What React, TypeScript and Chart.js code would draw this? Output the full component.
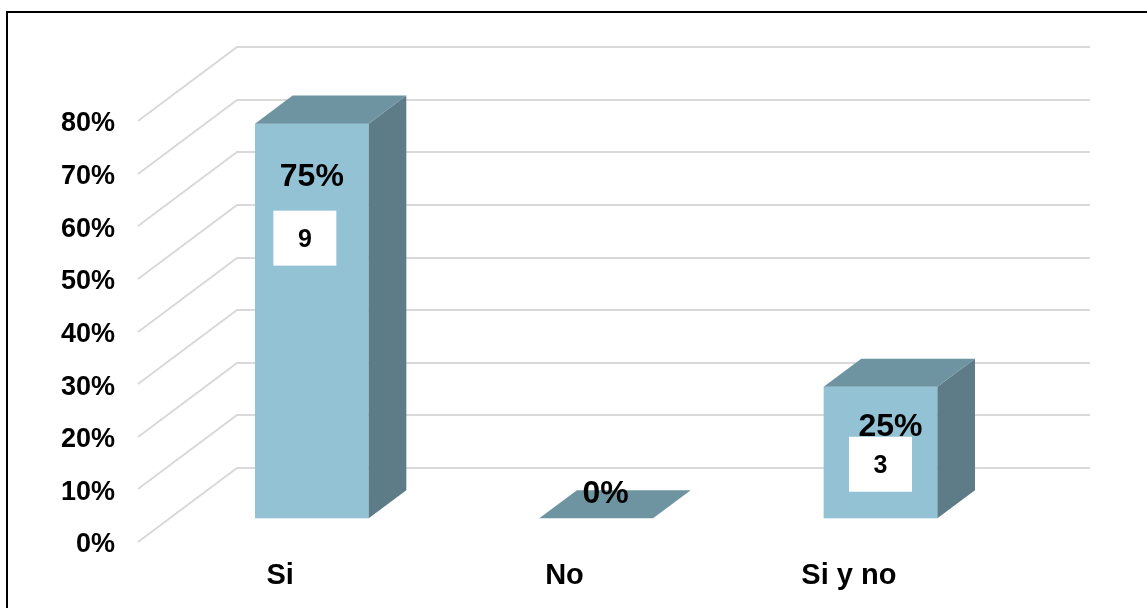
import React, { useEffect, useRef } from 'react';
import { Chart, registerables } from 'chart.js';

Chart.register(...registerables);

// ---- data ----
const categories = ['Si', 'No', 'Si y no'];
const percentValues = [0.75, 0, 0.25];
const counts = [9, 0, 3];
const yMax = 0.8;
const yStep = 0.1;

// ---- style / layout constants ----
const FONT = '"Liberation Sans", Arial, Helvetica, sans-serif';
const FRONT = '#92c2d4';
const TOP = '#6e94a2';
const SIDE = '#5d7c87';
const GRID = '#d9d9d9';
const DX = 99; // floor depth in x
const DY = 74; // floor depth in y
const F0 = 0.32; // bar front depth fraction
const F1 = 0.7; // bar back depth fraction
// label placement relative to bar front-face centre (x) and top (y)
const pctOffsets = [
  [0, 52],
  [9.5, -26.5],
  [10, 38],
];
const boxOffsets = [
  [-7, 114.5],
  [0, 0],
  [0, 77.5],
];

const threeDPlugin = {
  id: 'threeD',
  beforeDraw(chart: any) {
    const { ctx, width, height } = chart;
    ctx.save();
    ctx.fillStyle = '#ffffff';
    ctx.fillRect(0, 0, width, height);
    ctx.restore();
  },
  beforeDatasetsDraw(chart: any) {
    const { ctx, chartArea, scales } = chart;
    const y = scales.y;
    ctx.save();
    ctx.strokeStyle = GRID;
    ctx.lineWidth = 2;
    y.ticks.forEach((t: any) => {
      const py = Math.round(y.getPixelForValue(t.value));
      ctx.beginPath();
      ctx.moveTo(chartArea.left, py);
      ctx.lineTo(chartArea.left + DX, py - DY);
      ctx.lineTo(chartArea.right + DX, py - DY);
      ctx.stroke();
    });
    ctx.restore();
  },
  afterDatasetsDraw(chart: any) {
    const { ctx } = chart;
    const meta = chart.getDatasetMeta(0);
    const ox = DX * F0;
    const oy = DY * F0;
    const dx = DX * (F1 - F0);
    const dy = DY * (F1 - F0);
    ctx.save();
    meta.data.forEach((el: any, i: number) => {
      const { x, y, base, width } = el.getProps(['x', 'y', 'base', 'width'], true);
      const xl = x - width / 2 + ox;
      const xr = x + width / 2 + ox;
      const yt = y - oy;
      const yb = base - oy;
      // front
      if (yb - yt > 0.5) {
        ctx.fillStyle = FRONT;
        ctx.fillRect(xl, yt, xr - xl, yb - yt);
        // side
        ctx.fillStyle = SIDE;
        ctx.beginPath();
        ctx.moveTo(xr, yt);
        ctx.lineTo(xr + dx, yt - dy);
        ctx.lineTo(xr + dx, yb - dy);
        ctx.lineTo(xr, yb);
        ctx.closePath();
        ctx.fill();
      }
      // top
      ctx.fillStyle = TOP;
      ctx.beginPath();
      ctx.moveTo(xl, yt);
      ctx.lineTo(xr, yt);
      ctx.lineTo(xr + dx, yt - dy);
      ctx.lineTo(xl + dx, yt - dy);
      ctx.closePath();
      ctx.fill();

      const cx = (xl + xr) / 2;
      // percentage label
      ctx.fillStyle = '#000';
      ctx.font = `bold 32px ${FONT}`;
      ctx.textAlign = 'center';
      ctx.textBaseline = 'middle';
      ctx.fillText(
        Math.round(percentValues[i] * 100) + '%',
        cx + pctOffsets[i][0],
        yt + pctOffsets[i][1] + 2
      );
      // count box
      if (counts[i] > 0) {
        const bx = cx + boxOffsets[i][0];
        const by = yt + boxOffsets[i][1];
        ctx.fillStyle = '#ffffff';
        ctx.fillRect(bx - 31.5, by - 27.5, 63, 55);
        ctx.fillStyle = '#000';
        ctx.font = `bold 25px ${FONT}`;
        ctx.fillText(String(counts[i]), bx, by + 2);
      }
    });
    ctx.restore();
  },
  afterDraw(chart: any) {
    const { ctx, width, height } = chart;
    ctx.save();
    ctx.strokeStyle = '#000';
    ctx.lineWidth = 2;
    ctx.beginPath();
    ctx.moveTo(7, height + 2);
    ctx.lineTo(7, 12);
    ctx.lineTo(width + 2, 12);
    ctx.stroke();
    ctx.restore();
  },
};

export default function App() {
  const ref = useRef<HTMLCanvasElement | null>(null);
  useEffect(() => {
    document.body.style.margin = '0';
    if (!ref.current) return;
    const chart = new Chart(ref.current, {
      type: 'bar',
      data: {
        labels: categories,
        datasets: [
          {
            data: percentValues,
            backgroundColor: 'rgba(0,0,0,0)',
            borderWidth: 0,
            barPercentage: 0.4,
            categoryPercentage: 1,
          },
        ],
      },
      options: {
        responsive: false,
        animation: false,
        devicePixelRatio: 1,
        layout: { padding: { left: 0, top: 121, right: 156, bottom: 6 } },
        plugins: {
          legend: { display: false },
          tooltip: { enabled: false },
        },
        scales: {
          x: {
            grid: { display: false, drawTicks: false },
            border: { display: false },
            ticks: {
              color: '#000',
              padding: 17,
              font: { family: FONT, size: 29, weight: 'bold' },
            },
            afterFit(scale: any) {
              scale.height = 60;
            },
          },
          y: {
            min: 0,
            max: yMax,
            grid: { display: false, drawTicks: false },
            border: { display: false },
            ticks: {
              stepSize: yStep,
              color: '#000',
              padding: 23,
              labelOffset: 3,
              font: { family: FONT, size: 27, weight: 'bold' },
              callback: (v: any) => Math.round(Number(v) * 100) + '%',
            },
            afterFit(scale: any) {
              scale.width = 138;
            },
          },
        },
      },
      plugins: [threeDPlugin],
    });
    return () => chart.destroy();
  }, []);
  return (
    <div style={{ width: 1147, height: 608 }}>
      <canvas ref={ref} width={1147} height={608} style={{ display: 'block' }} />
    </div>
  );
}
